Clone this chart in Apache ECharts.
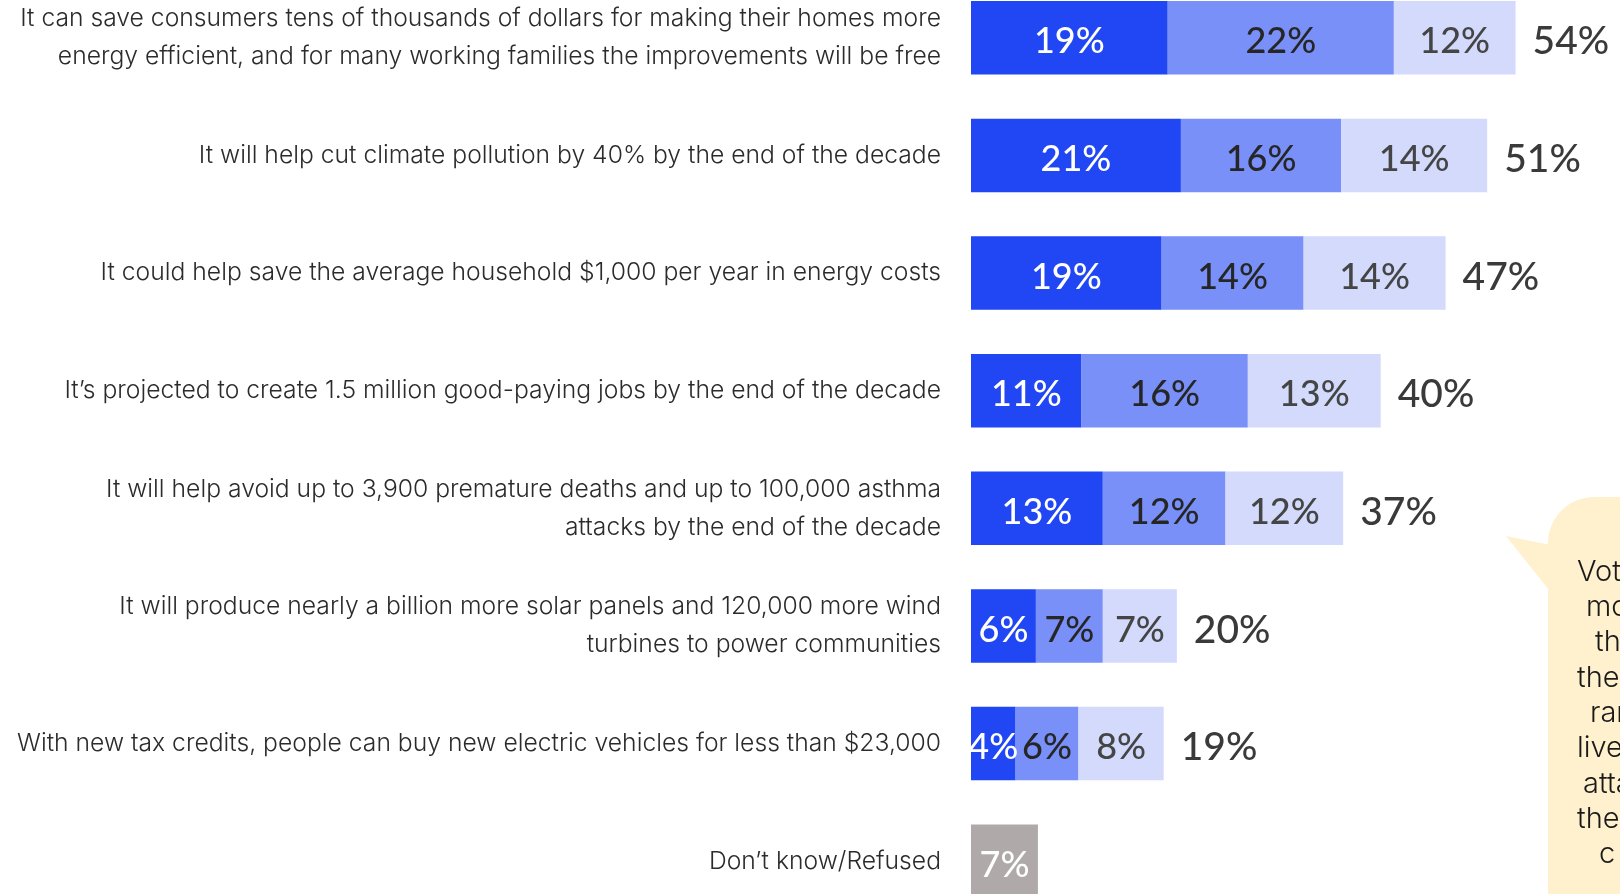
<!DOCTYPE html>
<html>
<head>
<meta charset="utf-8">
<script src="https://cdn.jsdelivr.net/npm/echarts@6/dist/echarts.min.js"></script>
<style>
html,body{margin:0;padding:0;background:#fff;overflow:hidden;width:1620px;height:894px;}
#chart{position:absolute;left:0;top:-50px;width:1620px;height:1000px;}
</style>
</head>
<body>
<div id="chart"></div>
<script>
var categories = [
  "It can save consumers tens of thousands of dollars for making their homes more\nenergy efficient, and for many working families the improvements will be free",
  "It will help cut climate pollution by 40% by the end of the decade",
  "It could help save the average household $1,000 per year in energy costs",
  "It\u2019s projected to create 1.5 million good-paying jobs by the end of the decade",
  "It will help avoid up to 3,900 premature deaths and up to 100,000 asthma\nattacks by the end of the decade",
  "It will produce nearly a billion more solar panels and 120,000 more wind\nturbines to power communities",
  "With new tax credits, people can buy new electric vehicles for less than $23,000",
  "Don\u2019t know/Refused"
];
var firstChoice  = [19.4, 20.7, 18.8, 10.9, 13.0, 6.4, 4.4, '-'];
var secondChoice = [22.3, 15.8, 14.0, 16.4, 12.1, 6.6, 6.2, '-'];
var thirdChoice  = [12.0, 14.4, 14.0, 13.1, 11.6, 7.3, 8.4, '-'];
var dontKnow     = ['-', '-', '-', '-', '-', '-', '-', 6.6];
var totals       = [54, 51, 47, 40, 37, 20, 19, null];

var bubbleLines = ["Voters", "most", "that", "these", "range", "lives", "attacks", "the", "c"];
var bubbleX = [1577, 1586, 1595, 1577, 1590, 1577, 1583, 1577, 1599];

var OFF = 50; // container is shifted up by this many pixels
var chart = echarts.init(document.getElementById('chart'), null, {renderer: 'canvas'});

var numFont = 'Lato';
function pct(p) { return Math.round(p.value) + '%'; }

var zeroEnds = totals.map(function (t) { return t === null ? '-' : 0; });

var graphics = [
  {type: 'rect', shape: {x: 1548, y: 497 + OFF, width: 220, height: 520, r: 46}, style: {fill: '#FFF1CE'}, z: 1},
  {type: 'polygon', shape: {points: [[1506, 536 + OFF], [1556, 546 + OFF], [1549, 590 + OFF]]}, style: {fill: '#FFF1CE'}, z: 1}
];
bubbleLines.forEach(function (t, i) {
  graphics.push({
    type: 'text', x: bubbleX[i], y: 572 + OFF + i * 35.3, z: 2,
    style: {text: t, fill: '#1a1a1a', font: '300 29px Inter', textAlign: 'left', textVerticalAlign: 'middle'}
  });
});

function inLabel(color) {
  return {show: true, position: 'inside', offset: [0, 4], formatter: pct, color: color,
          fontSize: 36, fontWeight: 500, fontFamily: numFont};
}

chart.setOption({
  animation: false,
  backgroundColor: '#ffffff',
  grid: {left: 971, top: OFF - 21, width: 649, height: 941, containLabel: false},
  xAxis: {
    type: 'value', min: 0, max: 64, show: false
  },
  yAxis: {
    type: 'category', data: categories, inverse: true,
    axisLine: {show: false}, axisTick: {show: false}, splitLine: {show: false},
    axisLabel: {
      margin: 30, fontSize: 24.7, lineHeight: 38, color: '#2b2b2b',
      fontFamily: 'Inter', fontWeight: 300, align: 'right'
    }
  },
  graphic: graphics,
  series: [
    {
      name: '1st', type: 'bar', stack: 'a', barWidth: 73.5, data: firstChoice,
      itemStyle: {color: '#2146F3'}, label: inLabel('#ffffff')
    },
    {
      name: '2nd', type: 'bar', stack: 'a', barWidth: 73.5, data: secondChoice,
      itemStyle: {color: '#7890F7'}, label: inLabel('#262626')
    },
    {
      name: '3rd', type: 'bar', stack: 'a', barWidth: 73.5, data: thirdChoice,
      itemStyle: {color: '#D3DAFC'}, label: inLabel('#454545')
    },
    {
      name: 'Don\u2019t know', type: 'bar', stack: 'a', barWidth: 73.5, data: dontKnow,
      itemStyle: {color: '#AFAAA9'}, label: inLabel('#ffffff')
    },
    {
      name: 'Total', type: 'bar', stack: 'a', barWidth: 73.5, data: zeroEnds,
      itemStyle: {color: 'transparent'},
      label: {
        show: true, position: 'right', distance: 17, offset: [0, 4],
        formatter: function (p) { return totals[p.dataIndex] + '%'; },
        color: '#3a3a3a', fontSize: 39, fontWeight: 500, fontFamily: numFont
      }
    }
  ]
});
</script>
</body>
</html>
